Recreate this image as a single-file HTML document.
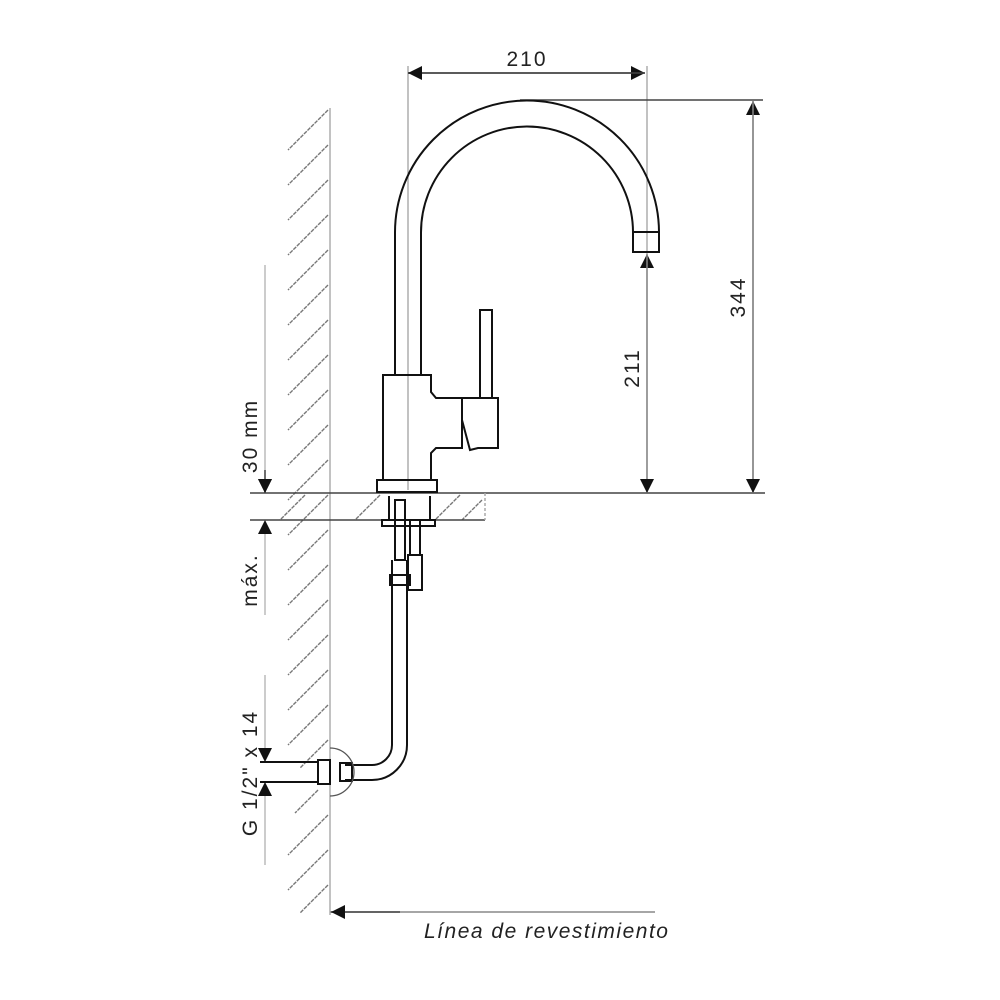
<!DOCTYPE html>
<html><head><style>body{margin:0;background:#fff}svg{display:block}</style></head><body>
<svg width="1000" height="1000" viewBox="0 0 1000 1000" xmlns="http://www.w3.org/2000/svg" font-family="Liberation Sans, sans-serif">
<defs>
<marker id="a" viewBox="0 0 10 10" refX="10" refY="5" markerWidth="14" markerHeight="14" markerUnits="userSpaceOnUse" orient="auto"><path d="M0,0L10,5L0,10z" fill="#111"/></marker>
</defs>
<g stroke="#999" stroke-width="1.2" fill="none">
<line x1="330" y1="108" x2="330" y2="915"/>
<path d="M328,110L288,150M328,145L288,185M328,180L288,220M328,215L288,255M328,250L288,290M328,285L288,325M328,320L288,360M328,355L288,395M328,390L288,430M328,425L288,465M328,460L288,500M328,495L288,535M328,530L288,570M328,565L288,605M328,600L288,640M328,635L288,675M328,670L288,710M328,705L288,745M328,740L300,768M318,790L295,813M328,815L288,855M328,850L288,890M328,885L300,913" stroke="#777" stroke-width="1.4" stroke-dasharray="4,1"/>
<path d="M380,495L355,520M305,495L280,520M460,495L435,520M482,500L462,520" stroke="#777" stroke-width="1.4" stroke-dasharray="4,1"/>
<line x1="408" y1="66" x2="408" y2="490"/>
<line x1="647" y1="66" x2="647" y2="493"/>
<line x1="265" y1="265" x2="265" y2="493" marker-end="url(#a)" stroke="#aaa"/>
<line x1="265" y1="615" x2="265" y2="520" marker-end="url(#a)" stroke="#aaa"/>
<line x1="265" y1="675" x2="265" y2="762" marker-end="url(#a)" stroke="#aaa"/>
<line x1="265" y1="865" x2="265" y2="782" marker-end="url(#a)" stroke="#aaa"/>
<line x1="647" y1="493" x2="647" y2="254" marker-end="url(#a)" stroke="#aaa"/>
</g>
<g stroke="#444" stroke-width="1.5" fill="none">
<line x1="250" y1="493" x2="765" y2="493"/>
<line x1="250" y1="520" x2="485" y2="520"/>
<line x1="485" y1="493" x2="485" y2="520" stroke="#aaa" stroke-dasharray="3,2"/>
<line x1="520" y1="100" x2="763" y2="100"/>
<line x1="408" y1="73" x2="645" y2="73" marker-end="url(#a)"/>
<line x1="645" y1="73" x2="408" y2="73" marker-end="url(#a)"/>
<line x1="753" y1="493" x2="753" y2="101" marker-end="url(#a)" stroke="#888"/>
<line x1="753" y1="101" x2="753" y2="493" marker-end="url(#a)" stroke="#888"/>
<line x1="647" y1="255" x2="647" y2="493" marker-end="url(#a)" stroke="#888"/>
<line x1="265" y1="470" x2="265" y2="493" marker-end="url(#a)"/>
<line x1="330" y1="912" x2="655" y2="912" stroke="#888"/>
<line x1="400" y1="912" x2="331" y2="912" marker-end="url(#a)" stroke="#444"/>
</g>
<g stroke="#111" stroke-width="2" fill="none">
<path d="M395,375L395,233A132,132 0 0 1 659,232"/>
<path d="M421,375L421,233A106,106 0 0 1 633,232"/>
<rect x="633" y="232" width="26" height="20"/>
<path d="M383,375H431V392L436,398H462V448H436L431,453V480H383Z"/>
<rect x="480" y="310" width="12" height="88"/>
<path d="M462,398H498V448H478L470,450L462,420Z"/>
<rect x="377" y="480" width="60" height="12"/>
<path d="M382,520H435V526H382Z"/>
<path d="M389,496V520M430,496V520M395,500H405V560H395Z M410,520V555H420V520 M408,555H422V590H408Z"/>
<path d="M392,560V745A20,20 0 0 1 372,765H345 M407,560V745A35,35 0 0 1 372,780H345"/>
<path d="M390,575H410V585H390Z"/>
<rect x="340" y="763" width="12" height="18"/>
<path d="M330,748A24,24 0 0 1 330,796" stroke="#555" stroke-width="1.3"/>
<path d="M260,762H318V782H260 M318,760H330V784H318Z"/>
</g>
<g fill="#222" font-size="21" letter-spacing="2">
<text x="527" y="66" text-anchor="middle">210</text>
<text transform="translate(745,297) rotate(-90)" text-anchor="middle">344</text>
<text transform="translate(639,368) rotate(-90)" text-anchor="middle">211</text>
<text transform="translate(257,436) rotate(-90)" text-anchor="middle">30 mm</text>
<text transform="translate(257,580) rotate(-90)" text-anchor="middle">máx.</text>
<text transform="translate(257,773) rotate(-90)" text-anchor="middle">G 1/2" x 14</text>
<text x="424" y="938" font-style="italic" letter-spacing="1.5">Línea de revestimiento</text>
</g>
</svg>
</body></html>
